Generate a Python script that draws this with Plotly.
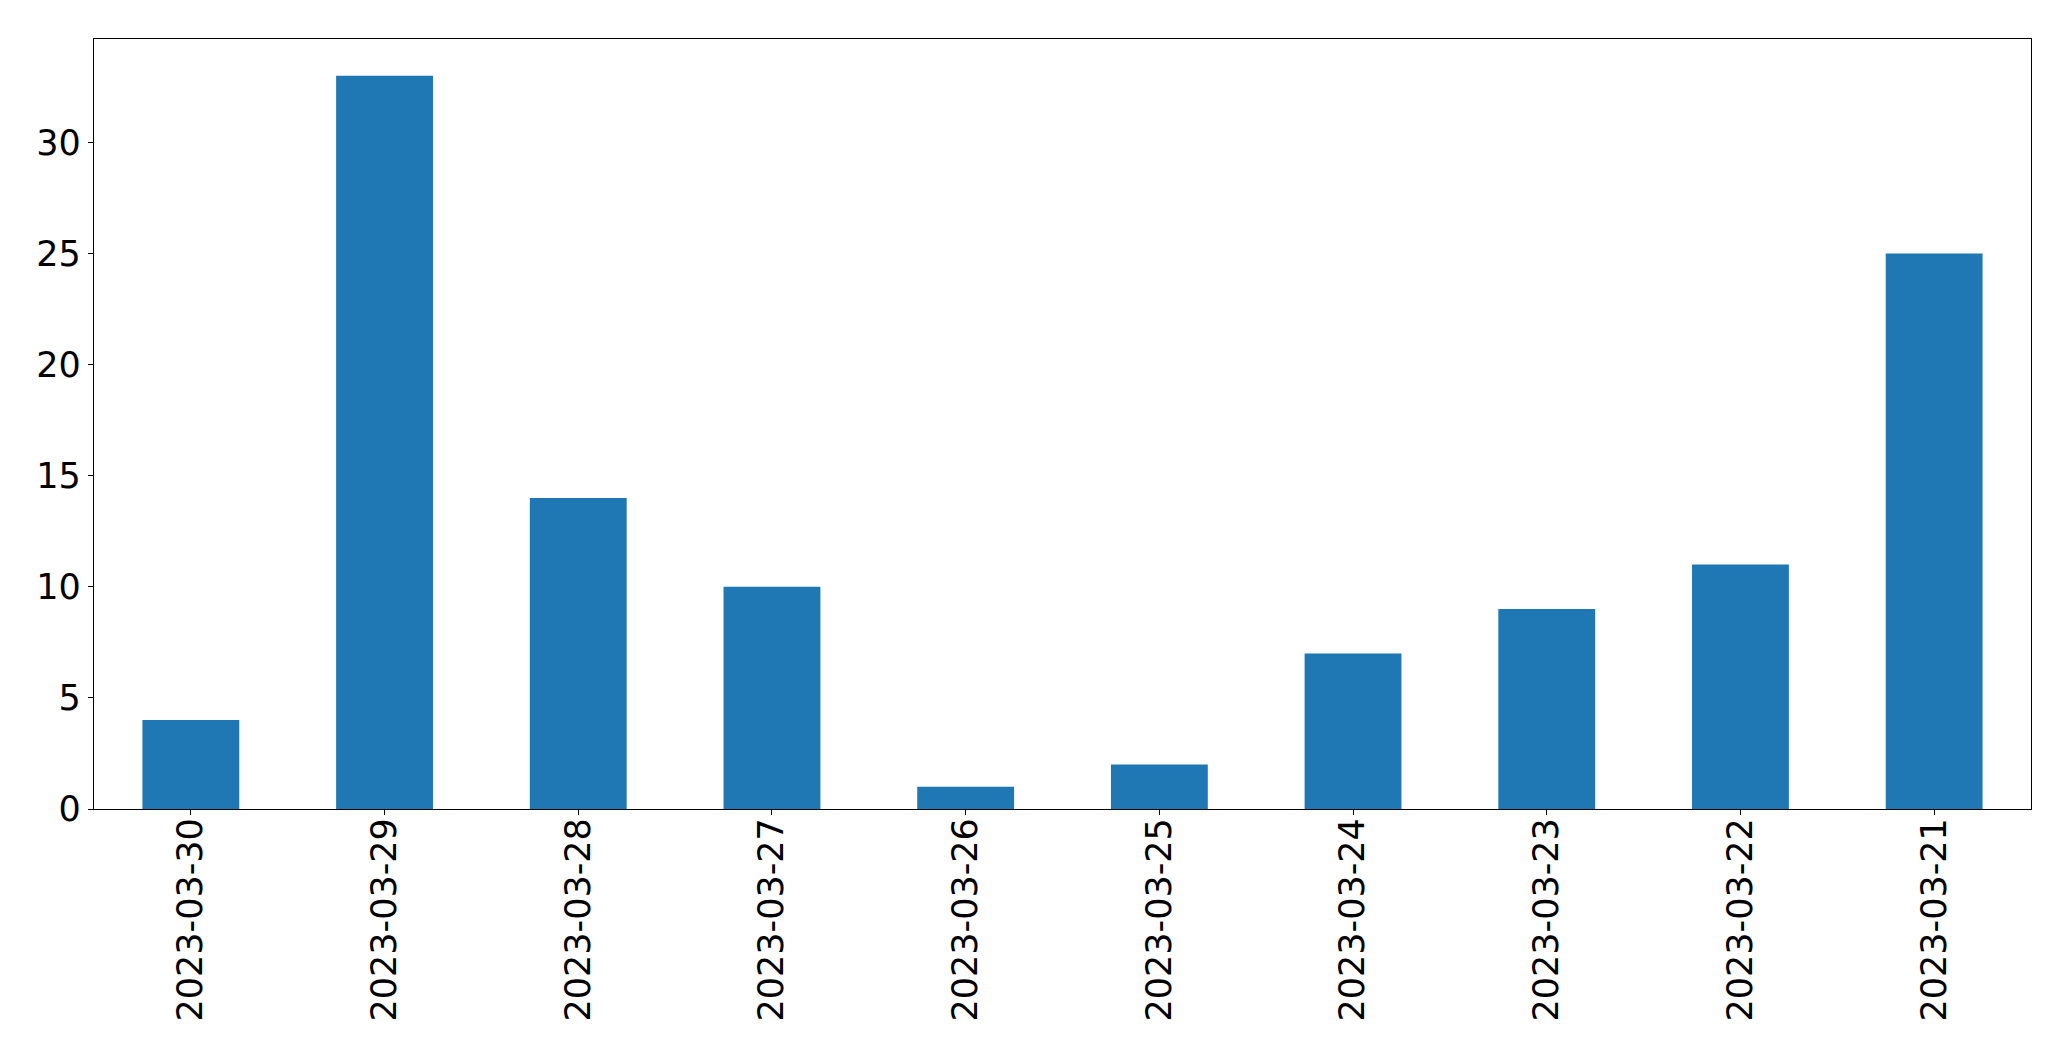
import plotly.graph_objects as go

dates = ["2023-03-30", "2023-03-29", "2023-03-28", "2023-03-27", "2023-03-26",
         "2023-03-25", "2023-03-24", "2023-03-23", "2023-03-22", "2023-03-21"]
counts = [4, 33, 14, 10, 1, 2, 7, 9, 11, 25]
y_ticks = [0, 5, 10, 15, 20, 25, 30]

fig = go.Figure(go.Bar(x=dates, y=counts, width=0.5, marker=dict(color="#1f77b4", line=dict(width=0))))

axis_common = dict(showline=True, linecolor="black", linewidth=1.3, mirror=True,
                   showgrid=False, zeroline=False, ticks="outside", ticklen=5,
                   tickcolor="black", tickwidth=1.3, automargin=False,
                   tickfont=dict(family="DejaVu Sans", size=35, color="black"))

fig.update_layout(
    width=2055, height=1045,
    margin=dict(l=86, r=32, t=31, b=244),
    plot_bgcolor="white", paper_bgcolor="white",
    showlegend=False,
    xaxis=dict(type="category", range=[-0.5, 9.5], tickangle=-90, ticklabelstandoff=-11, **axis_common),
    yaxis=dict(range=[0, 34.65], tickvals=y_ticks, **axis_common),
)

fig.write_html("out.html")
